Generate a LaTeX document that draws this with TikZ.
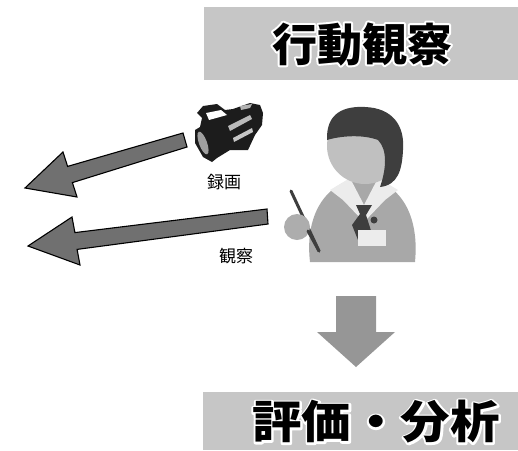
\documentclass[tikz,border=0pt]{standalone}
\usepackage{fontspec}
\usepackage{xcolor}
\newfontfamily\jpfont{Noto Sans CJK JP}
\usetikzlibrary{positioning,calc}
\definecolor{bargray}{RGB}{198,198,198}
\definecolor{arrdark}{RGB}{112,112,112}
\definecolor{arrlt}{RGB}{150,150,150}
\definecolor{hairgray}{RGB}{62,62,62}
\definecolor{skingray}{RGB}{192,192,192}
\definecolor{shirtgray}{RGB}{168,168,168}
\definecolor{collarlt}{RGB}{236,236,236}
\definecolor{camblack}{RGB}{28,28,28}
% white stroked copy of the text under the black one
\newcommand{\outlined}[1]{\makebox[0pt][l]{\special{pdf:literal direct 1 Tr 4 w 1 j 1 1 1 RG}#1\special{pdf:literal direct 0 Tr 0 0 0 RG}}#1}
\tikzset{
  bar/.style={rectangle, fill=bargray, draw=none, inner sep=0pt},
  titletxt/.style={font=\jpfont\bfseries\fontsize{45}{45}\selectfont, text=black, inner sep=0pt},
  fatarr/.style={fill=arrdark, draw=black, line width=1.1pt, line join=miter},
  downarr/.style={fill=arrlt, draw=none},
  lbl/.style={font=\jpfont\fontsize{17}{17}\selectfont, inner sep=0pt}
}

\begin{document}
\begin{tikzpicture}[x=1pt, y=-1pt, node distance=6pt]
\useasboundingbox (0,0) rectangle (518,450);

%% Title bars
\node[bar, minimum width=314pt, minimum height=73pt, anchor=north west] (topbar) at (204,7) {};
\node[bar, minimum width=315pt, minimum height=58pt, anchor=north west] (botbar) at (203,392) {};

%% Arrows to the left
\draw[fatarr] (25,188) -- (63,152) -- (67.6,166.4) -- (183,133)
  -- (187,147) -- (72.4,182.6) -- (77,197) -- cycle;
\draw[fatarr] (28,246) -- (72,217) -- (74.9,232.6) -- (267,209)
  -- (268,224) -- (77.1,249.4) -- (80,265) -- cycle;

%% Down arrow
\draw[downarr] (336,296) -- (376,296) -- (376,332) -- (395,332)
  -- (356,367) -- (317,332) -- (336,332) -- cycle;

%% Camcorder
\begin{scope}
  \fill[camblack] (197,113) -- (203,106) -- (217,104) -- (225,110) -- (233,109)
    -- (250,103) -- (260,105) -- (263,113) -- (262,125) -- (255,135) -- (248,150)
    -- (230,150) -- (217,158) -- (212,162) -- (203,157) -- (195,143) -- (195,130)
    -- (200,127) -- (202,118) -- cycle;
  \fill[white] (206,113) -- (221,110) -- (227,115) -- (209,120) -- cycle;
  \fill[gray!75, rotate around={20:(203,143)}] (203,143) ellipse (4 and 12);
  \fill[gray!55] (228,126) -- (250,115) -- (252,119) -- (230,131) -- cycle;
  \fill[gray!45] (233,138) -- (252,128) -- (253,132) -- (234,142) -- cycle;
  \fill[gray!60] (240,106) -- (252,104) -- (250,108) -- (241,110) -- cycle;
\end{scope}
\node[lbl] (rec) at (224,182) {録画};
\node[lbl] (look) at (236,256) {観察};

%% Person taking notes
\begin{scope}
  % body
  \fill[shirtgray] (310,262) .. controls (304,210) and (330,180) .. (363,178)
    .. controls (396,180) and (420,210) .. (415,262) -- cycle;
  \fill[collarlt] (330,190) -- (350,178) -- (364,205) -- (378,178) -- (398,190)
    -- (385,200) -- (364,222) -- (343,200) -- cycle;
  \fill[hairgray] (356,205) -- (372,205) -- (366,215) -- (374,240) -- (360,245) -- (352,225) -- (360,214) -- cycle;
  \fill[hairgray] (374,220) circle (3.5);
  \fill[collarlt] (358,230) rectangle (386,246);
  % head and hair
  \fill[skingray] (365,146) circle (38);
  \fill[hairgray] (327,140) .. controls (326,112) and (345,106) .. (365,107)
    .. controls (392,108) and (405,125) .. (403,150)
    .. controls (402,170) and (398,185) .. (380,187)
    .. controls (386,170) and (388,150) .. (378,140)
    .. controls (362,134) and (340,136) .. (327,140) -- cycle;
  % hand and pen
  \draw[hairgray, line width=3pt, line cap=round] (291,191) -- (319,251);
  \fill[skingray!90!black] (297,227) circle (13);
  \draw[hairgray, line width=3pt, line cap=round] (308,231) -- (319,251);
\end{scope}

%% Titles
\node[titletxt] (obs) at (362,44) {\outlined{行動観察}};
\node[titletxt, xscale=1.1] (eval) at (376,422) {\outlined{評価・分析}};

\end{tikzpicture}
\end{document}
